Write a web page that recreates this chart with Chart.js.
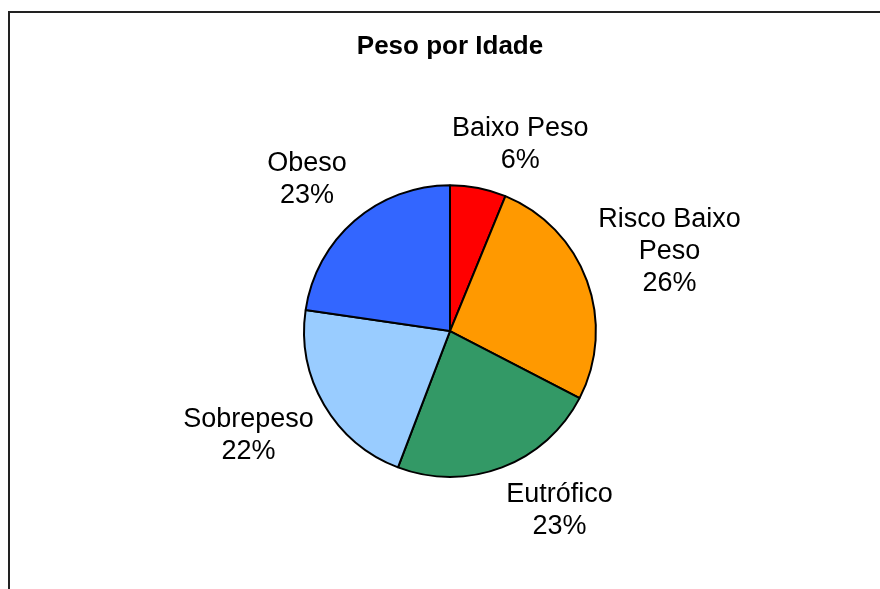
<!DOCTYPE html>
<html>
<head>
<meta charset="utf-8">
<script src="https://cdn.jsdelivr.net/npm/chart.js@4/dist/chart.umd.min.js"></script>
<style>
  html, body { margin: 0; padding: 0; background: #fff; }
  #wrap { width: 880px; height: 589px; position: relative; }
</style>
</head>
<body>
<div id="wrap"><canvas id="pesoChart" width="880" height="589"></canvas></div>
<script>
const categories = ['Baixo Peso', 'Risco Baixo Peso', 'Eutrófico', 'Sobrepeso', 'Obeso'];
const values = [6.2, 26.4, 23.2, 21.5, 22.7];
const sliceColors = ['#FF0000', '#FF9900', '#339966', '#99CCFF', '#3366FF'];

const FONT = '"Liberation Sans", Arial, Helvetica, sans-serif';

// frame of the chart area (only top and left edges are visible in the picture)
const framePlugin = {
    id: 'frame',
    beforeDraw(chart) {
        const ctx = chart.ctx;
        ctx.save();
        ctx.strokeStyle = '#222';
        ctx.lineWidth = 2;
        ctx.strokeRect(9, 12, chart.width + 20, chart.height + 20);
        ctx.restore();
    }
};

function wrapText(ctx, text, maxWidth) {
    const words = text.split(' ');
    const lines = [];
    let line = '';
    words.forEach(w => {
        const test = line ? line + ' ' + w : w;
        if (ctx.measureText(test).width > maxWidth && line) {
            lines.push(line);
            line = w;
        } else {
            line = test;
        }
    });
    lines.push(line);
    return lines;
}

// excel-like outside end labels: category name + percentage
const outsideLabels = {
    id: 'outsideLabels',
    afterDatasetsDraw(chart) {
        const ctx = chart.ctx;
        const meta = chart.getDatasetMeta(0);
        const data = chart.data.datasets[0].data;
        const total = data.reduce((a, b) => a + b, 0);
        const lineH = 32;
        ctx.save();
        ctx.font = '27px ' + FONT;
        ctx.fillStyle = '#000';
        ctx.textAlign = 'center';
        ctx.textBaseline = 'middle';
        meta.data.forEach((arc, i) => {
            const p = arc.getProps(['x', 'y', 'startAngle', 'endAngle', 'outerRadius'], true);
            const mid = (p.startAngle + p.endAngle) / 2;
            const r = p.outerRadius + 12;
            const ax = p.x + Math.cos(mid) * r;
            const ay = p.y + Math.sin(mid) * r;
            const lines = wrapText(ctx, chart.data.labels[i], 150);
            lines.push(Math.round(data[i] / total * 100) + '%');
            const w = Math.max(...lines.map(l => ctx.measureText(l).width));
            const h = lines.length * lineH;
            const fx = Math.max(-1, Math.min(1, Math.cos(mid) * 3));
            const fy = Math.max(-1, Math.min(1, Math.sin(mid) * 1.5));
            const cx = ax + fx * w / 2;
            const cy = ay + fy * h / 2;
            lines.forEach((l, j) => {
                ctx.fillText(l, cx, cy - h / 2 + lineH * (j + 0.5));
            });
        });
        ctx.restore();
    }
};

new Chart(document.getElementById('pesoChart'), {
    type: 'pie',
    data: {
        labels: categories,
        datasets: [{
            data: values,
            backgroundColor: sliceColors,
            borderColor: '#000',
            borderWidth: 2
        }]
    },
    options: {
        responsive: false,
        animation: false,
        layout: {
            padding: { top: 0, bottom: 111, left: 303, right: 283 }
        },
        plugins: {
            legend: { display: false },
            tooltip: { enabled: false },
            title: {
                display: true,
                text: 'Peso por Idade',
                color: '#000',
                font: { family: FONT, size: 26, weight: 'bold' },
                padding: { top: 31, bottom: 122 }
            }
        }
    },
    plugins: [framePlugin, outsideLabels]
});
</script>
</body>
</html>
